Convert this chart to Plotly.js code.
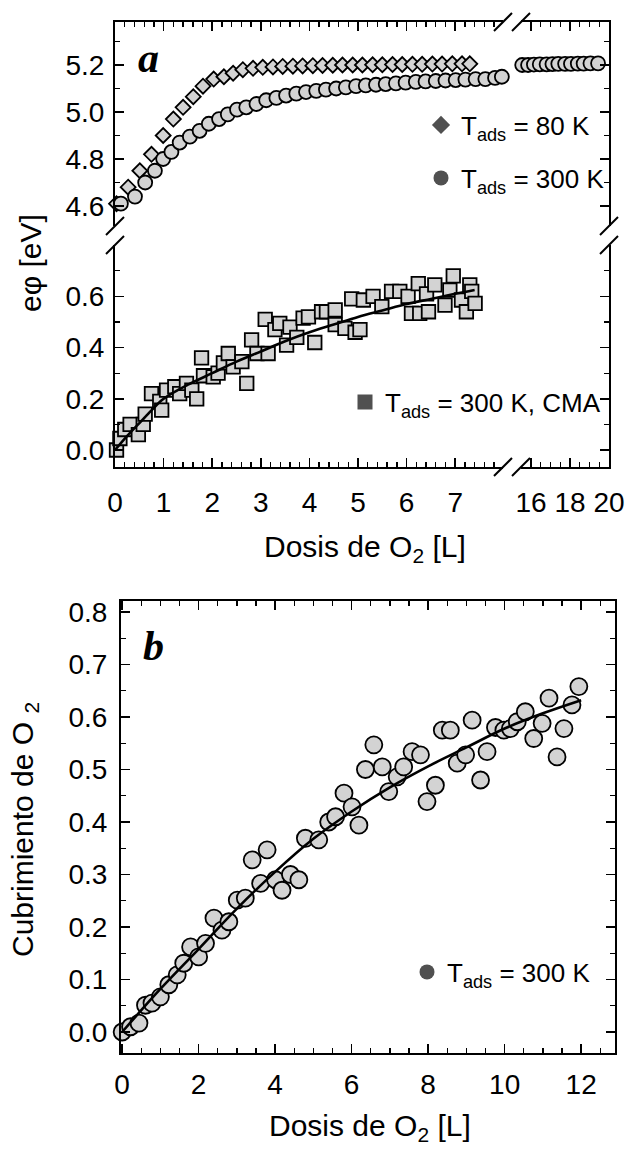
<!DOCTYPE html>
<html><head><meta charset="utf-8">
<script src="https://cdn.plot.ly/plotly-3.0.1.min.js"></script>
<style>html,body{margin:0;padding:0;background:#fff}</style>
</head><body><div id="chart" style="width:630px;height:1150px"></div>
<script>
// ---------- Panel a, upper section: work function e-phi [eV] ----------
const dose80 = [0.03,0.27,0.51,0.75,0.99,1.20,1.40,1.61,1.81,2.03,2.24,2.43,2.63,2.84,3.04,3.25,3.45,3.66,3.86,4.07,4.27,4.48,4.68,4.89,5.09,5.30,5.50,5.71,5.91,6.12,6.32,6.53,6.73,6.94,7.14,7.30];
const phi80  = [4.61,4.68,4.75,4.82,4.90,4.97,5.02,5.065,5.11,5.14,5.15,5.165,5.18,5.186,5.19,5.192,5.194,5.195,5.196,5.197,5.198,5.199,5.2,5.2,5.2,5.201,5.201,5.202,5.202,5.203,5.203,5.204,5.204,5.205,5.205,5.205];
const dose300 = [0.12,0.41,0.62,0.82,0.99,1.16,1.33,1.54,1.74,1.93,2.14,2.32,2.51,2.70,2.91,3.11,3.32,3.52,3.73,3.93,4.14,4.34,4.55,4.75,4.96,5.16,5.37,5.57,5.78,5.98,6.19,6.39,6.60,6.80,7.01,7.21,7.42,7.62,7.82,7.96];
const phi300  = [4.61,4.64,4.70,4.75,4.80,4.83,4.87,4.895,4.92,4.95,4.97,4.99,5.01,5.02,5.034,5.05,5.06,5.07,5.078,5.085,5.09,5.095,5.10,5.105,5.11,5.113,5.116,5.119,5.122,5.125,5.128,5.13,5.132,5.134,5.136,5.138,5.14,5.14,5.145,5.15];
const dose300hi = [15.55,15.85,16.15,16.45,16.8,17.1,17.4,17.75,18.05,18.4,18.7,19.05,19.44];
const phi300hi  = [5.2,5.2,5.202,5.203,5.203,5.204,5.205,5.205,5.205,5.206,5.206,5.207,5.207];

// ---------- Panel a, lower section: CMA work-function change ----------
const doseCMA = [0.03,0.10,0.20,0.31,0.48,0.58,0.62,0.75,0.92,0.96,1.06,1.23,1.33,1.47,1.58,1.68,1.78,1.82,2.02,2.12,2.23,2.33,2.43,2.61,2.71,2.81,2.92,3.09,3.15,3.29,3.39,3.53,3.60,3.74,3.87,3.98,4.11,4.25,4.35,4.53,4.53,4.73,4.87,4.94,5.04,5.11,5.31,5.49,5.69,5.86,6.03,6.10,6.24,6.27,6.41,6.45,6.58,6.79,6.89,6.96,7.13,7.23,7.30,7.34,7.41];
const phiCMA  = [0.0,0.045,0.08,0.10,0.06,0.10,0.14,0.22,0.19,0.156,0.234,0.247,0.22,0.26,0.234,0.20,0.36,0.29,0.286,0.30,0.34,0.377,0.325,0.345,0.26,0.43,0.377,0.51,0.377,0.47,0.495,0.41,0.48,0.44,0.515,0.52,0.42,0.54,0.54,0.547,0.49,0.475,0.59,0.46,0.47,0.586,0.60,0.56,0.62,0.62,0.60,0.534,0.65,0.534,0.61,0.54,0.645,0.566,0.625,0.68,0.586,0.54,0.645,0.62,0.573];
const fitCMAx = [0,0.25,0.5,0.75,1,1.5,2,2.5,3,3.5,4,4.5,5,5.5,6,6.5,7,7.4];
const fitCMAy = [0,0.055,0.105,0.155,0.20,0.255,0.30,0.345,0.385,0.425,0.46,0.49,0.52,0.545,0.57,0.59,0.61,0.625];

// ---------- Panel b: O2 coverage ----------
const doseB = [0,0.22,0.44,0.61,0.78,1.0,1.22,1.44,1.61,1.79,2.0,2.18,2.40,2.61,2.79,3.01,3.22,3.40,3.62,3.79,4.01,4.18,4.40,4.62,4.79,5.14,5.40,5.58,5.80,6.01,6.19,6.36,6.58,6.80,6.97,7.19,7.36,7.58,7.80,7.97,8.19,8.37,8.58,8.76,8.98,9.15,9.37,9.54,9.76,9.98,10.15,10.33,10.54,10.76,10.98,11.16,11.37,11.55,11.76,11.94];
const covB  = [0.0,0.01,0.017,0.051,0.055,0.067,0.09,0.109,0.131,0.162,0.143,0.169,0.217,0.194,0.21,0.251,0.255,0.328,0.283,0.347,0.29,0.27,0.30,0.29,0.369,0.366,0.40,0.41,0.455,0.429,0.394,0.50,0.547,0.505,0.458,0.486,0.505,0.534,0.528,0.439,0.47,0.575,0.575,0.512,0.528,0.594,0.48,0.534,0.58,0.575,0.578,0.591,0.61,0.559,0.588,0.636,0.524,0.578,0.623,0.658];
const fitBx = [0,1,2,3,4,5,6,7,8,9,10,11,12];
const fitBy = [0,0.082,0.158,0.235,0.305,0.368,0.42,0.466,0.506,0.542,0.578,0.607,0.632];

// ---------- labels ----------
const ticksHi = [16,18,20];
const ticksLow = [0,0.2,0.4,0.6];
const legendNames = ['T<sub>ads</sub> = 80 K','T<sub>ads</sub> = 300 K','T<sub>ads</sub> = 300 K, CMA','T<sub>ads</sub> = 300 K'];
const titleYa = 'eφ [eV]';
const titleX = 'Dosis de O<sub>2</sub> [L]';
const titleYb = 'Cubrimiento de O <sub>2</sub>';

// ---------- layout helpers ----------
const W = 630, H = 1150;
const fx = p => p / W, fy = p => 1 - p / H;
const FONT = 'Liberation Sans, Arial, sans-serif';
const fill = '#d3d3d3';
const mk = (sym, size) => ({symbol: sym, size: size, color: fill, line: {color: '#000', width: 1.8}});
const legMk = (sym, size) => ({symbol: sym, size: size, color: '#505050', line: {width: 0}});

function ax(o) {
  return Object.assign({
    showline: true, linecolor: '#000', linewidth: 2,
    ticks: 'inside', ticklen: 9, tickwidth: 1.6, tickcolor: '#000',
    showgrid: false, zeroline: false, fixedrange: true,
    tickfont: {family: FONT, size: 28, color: '#000'}
  }, o);
}
const minor = d => ({dtick: d, ticks: 'inside', ticklen: 5, tickwidth: 1.4, tickcolor: '#000', showgrid: false});
const minorHi = {tickmode: 'linear', tick0: 0, dtick: 0.5, ticks: 'inside', ticklen: 5, tickwidth: 1.4, tickcolor: '#000'};
const minorLow = {tickmode: 'linear', tick0: 0, dtick: 0.1, ticks: 'inside', ticklen: 5, tickwidth: 1.4, tickcolor: '#000'};

// pixel geometry
const A_L = 115, A_B1 = 503, A_B2 = 521, A_R = 609;
const A_T = 22, A_U = 226, A_D = 245, A_BOT = 467;
const B_L = 121, B_R = 615, B_T = 601, B_BOT = 1053;

const traces = [
  {type: 'scatter', mode: 'markers', x: dose80, y: phi80, xaxis: 'x', yaxis: 'y', marker: mk('diamond', 11.5), showlegend: false, cliponaxis: false},
  {type: 'scatter', mode: 'markers', x: dose300, y: phi300, xaxis: 'x', yaxis: 'y', marker: mk('circle', 14), showlegend: false, cliponaxis: false},
  {type: 'scatter', mode: 'markers', x: dose300hi, y: phi300hi, xaxis: 'x2', yaxis: 'y', marker: mk('circle', 14), showlegend: false, cliponaxis: false},
  {type: 'scatter', mode: 'markers', x: doseCMA, y: phiCMA, xaxis: 'x', yaxis: 'y2', marker: mk('square', 13.5), showlegend: false, cliponaxis: false},
  {type: 'scatter', mode: 'lines', x: fitCMAx, y: fitCMAy, xaxis: 'x', yaxis: 'y2', line: {color: '#000', width: 2.6, shape: 'spline'}, showlegend: false},
  {type: 'scatter', mode: 'markers', x: doseB, y: covB, xaxis: 'x5', yaxis: 'y5', marker: mk('circle', 17), showlegend: false, cliponaxis: false},
  {type: 'scatter', mode: 'lines', x: fitBx, y: fitBy, xaxis: 'x5', yaxis: 'y5', line: {color: '#000', width: 2.6, shape: 'spline'}, showlegend: false},
  // legend entries
  {type: 'scatter', mode: 'markers', x: [null], y: [null], xaxis: 'x3', yaxis: 'y', name: legendNames[0], marker: legMk('diamond', 14), legend: 'legend'},
  {type: 'scatter', mode: 'markers', x: [null], y: [null], xaxis: 'x2', yaxis: 'y3', name: legendNames[1], marker: legMk('circle', 15), legend: 'legend2'},
  {type: 'scatter', mode: 'markers', x: [null], y: [null], xaxis: 'x4', yaxis: 'y4', name: legendNames[2], marker: legMk('square', 15), legend: 'legend3'},
  {type: 'scatter', mode: 'markers', x: [null], y: [null], xaxis: 'x5', yaxis: 'y5', name: legendNames[3], marker: legMk('circle', 15), legend: 'legend4'}
];

const rngX = [-0.001, (A_B1 - A_L) / 48.6];
const rngX2 = [20 - (A_R - A_B2) / 19.5, 20.001];
const rngY = [5.2 - (A_U - 65) / 235, 5.2 + (65 - A_T) / 235];
const rngY2 = [-(A_BOT - 450) / 256, (450 - A_D) / 256];

const leg = (px, py) => ({x: fx(px), y: fy(py), xanchor: 'left', yanchor: 'middle', bgcolor: 'rgba(0,0,0,0)', borderwidth: 0,
  font: {family: FONT, size: 26, color: '#000'}, itemclick: false, itemdoubleclick: false});

function slash(cx, cy) {
  return {type: 'line', xref: 'paper', yref: 'paper', x0: fx(cx - 9), y0: fy(cy + 9), x1: fx(cx + 9), y1: fy(cy - 9), line: {color: '#000', width: 2}};
}
const ann = (text, px, py, size, extra) => Object.assign({text: text, xref: 'paper', yref: 'paper', x: fx(px), y: fy(py),
  xanchor: 'center', yanchor: 'middle', showarrow: false, font: {family: FONT, size: size, color: '#000'}}, extra || {});
const serif = {family: 'Liberation Serif, Times New Roman, serif', size: 42, weight: 'bold', style: 'italic', color: '#000'};

const layout = {
  width: W, height: H, margin: {l: 0, r: 0, t: 0, b: 0},
  paper_bgcolor: '#fff', plot_bgcolor: 'rgba(0,0,0,0)', showlegend: true,
  font: {family: FONT, color: '#000'},
  xaxis: ax({domain: [fx(A_L), fx(A_B1)], range: rngX, anchor: 'y2', side: 'bottom', dtick: 1, tick0: 0, minor: minor(0.2), ticklabelstandoff: 9}),
  xaxis2: ax({domain: [fx(A_B2), fx(A_R)], range: rngX2, anchor: 'y2', side: 'bottom', tickmode: 'array', tickvals: ticksHi, minor: minorHi, ticklabelstandoff: 9}),
  xaxis3: ax({overlaying: 'x', range: rngX, anchor: 'y', side: 'top', dtick: 1, tick0: 0, minor: minor(0.2), showticklabels: false}),
  xaxis4: ax({overlaying: 'x2', range: rngX2, anchor: 'y', side: 'top', tickmode: 'array', tickvals: ticksHi, minor: minorHi, showticklabels: false}),
  yaxis: ax({domain: [fy(A_U), fy(A_T)], range: rngY, anchor: 'x', side: 'left', dtick: 0.2, tick0: 0, tickformat: '.1f', minor: minor(0.1), ticklabelstandoff: 3}),
  yaxis2: ax({domain: [fy(A_BOT), fy(A_D)], range: rngY2, anchor: 'x', side: 'left', tickmode: 'array', tickvals: ticksLow, tickformat: '.1f', minor: minorLow, ticklabelstandoff: 3}),
  yaxis3: ax({overlaying: 'y', range: rngY, anchor: 'x2', side: 'right', dtick: 0.2, tick0: 0, minor: minor(0.1), showticklabels: false}),
  yaxis4: ax({overlaying: 'y2', range: rngY2, anchor: 'x2', side: 'right', tickmode: 'array', tickvals: ticksLow, minor: minorLow, showticklabels: false}),
  xaxis5: ax({domain: [fx(B_L), fx(B_R)], range: [-0.03, -0.03 + (B_R - B_L) / 38.25], anchor: 'y5', dtick: 2, tick0: 0, minor: minor(0.5), mirror: 'ticks', ticklabelstandoff: 5}),
  yaxis5: ax({domain: [fy(B_BOT), fy(B_T)], range: [-(B_BOT - 1032) / 525, (1032 - B_T) / 525], anchor: 'x5', dtick: 0.1, tick0: 0, tickformat: '.1f', minor: minor(0.05), mirror: 'ticks', ticklabelstandoff: 6}),
  legend: leg(421, 125),
  legend2: leg(421, 178),
  legend3: leg(345, 402),
  legend4: leg(407, 972),
  shapes: [
    slash(A_B1, A_T), slash(A_B2, A_T), slash(A_B1, A_BOT), slash(A_B2, A_BOT),
    slash(A_L, A_U), slash(A_L, A_D), slash(A_R, A_U), slash(A_R, A_D)
  ],
  annotations: [
    ann('a', 148, 58, 42, {font: serif}),
    ann('b', 153, 646, 42, {font: serif}),
    ann(titleYa, 30, 263, 30, {textangle: -90}),
    ann(titleX, 365, 548, 30),
    ann(titleYb, 24, 830, 30, {textangle: -90}),
    ann(titleX, 370, 1127, 30)
  ]
};

Plotly.newPlot('chart', traces, layout, {displayModeBar: false, staticPlot: true}).then(function (gd) {
  // drop empty placeholder text nodes (e.g. unused axis titles)
  gd.querySelectorAll('text').forEach(function (t) { if (!t.textContent.trim()) t.remove(); });
});
</script></body></html>
